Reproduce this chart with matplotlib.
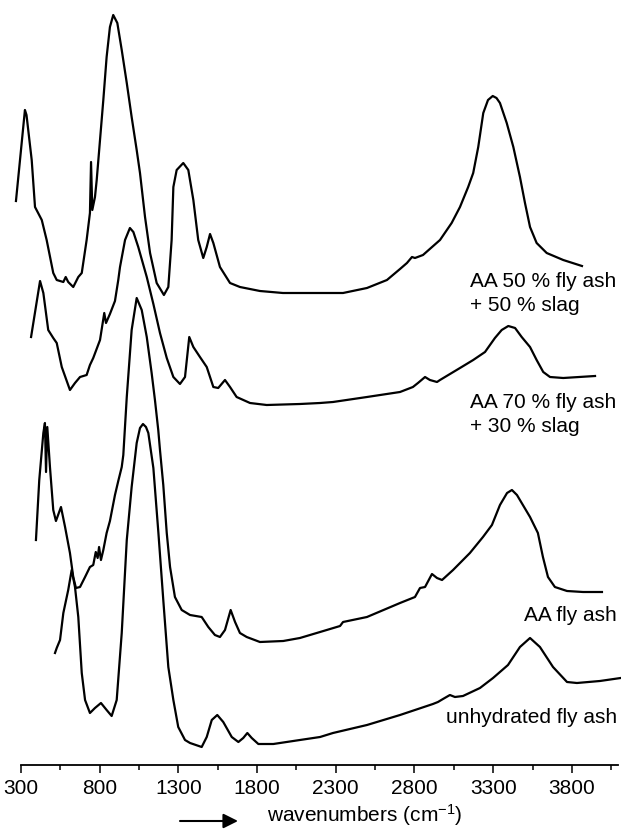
import matplotlib
matplotlib.use("Agg")
import matplotlib.pyplot as plt
from matplotlib.ticker import FixedLocator

plt.rcParams['font.family'] = ['Liberation Sans', 'DejaVu Sans']
plt.rcParams['mathtext.fontset'] = 'custom'
plt.rcParams['mathtext.rm'] = 'Liberation Sans'
plt.rcParams['mathtext.it'] = 'Liberation Sans:italic'
plt.rcParams['axes.unicode_minus'] = False

# IR spectra, stacked with vertical offsets (absorbance, a.u.)
wn_fa50 = [268, 325, 335, 368, 389, 432, 463, 505, 527, 569, 584, 600, 632, 664, 686,
           717, 738, 745, 753, 770, 781, 802, 823, 844, 865, 886, 912, 940, 972, 1003,
           1035, 1056, 1088, 1120, 1162, 1208, 1236, 1257, 1268, 1289, 1331, 1363, 1395, 1426, 1458,
           1480, 1501, 1522, 1564, 1628, 1691, 1818, 1964, 2072, 2200, 2346, 2498, 2625, 2708, 2752,
           2784, 2803, 2854, 2962, 3036, 3089, 3141, 3173, 3205, 3237, 3267, 3297, 3321, 3343, 3386,
           3428, 3470, 3502, 3534, 3576, 3640, 3745, 3864]
abs_fa50 = [5.66, 6.57, 6.52, 6.07, 5.60, 5.47, 5.27, 4.94, 4.87, 4.85, 4.90, 4.85, 4.80, 4.90, 4.94,
            5.27, 5.54, 6.05, 5.57, 5.70, 5.87, 6.27, 6.67, 7.10, 7.40, 7.52, 7.44, 7.17, 6.84, 6.50,
            6.17, 5.94, 5.50, 5.14, 4.84, 4.72, 4.80, 5.27, 5.80, 5.97, 6.04, 5.97, 5.67, 5.27, 5.09,
            5.20, 5.33, 5.24, 5.00, 4.84, 4.80, 4.76, 4.74, 4.74, 4.74, 4.74, 4.79, 4.87, 4.98, 5.04,
            5.10, 5.09, 5.12, 5.27, 5.44, 5.60, 5.80, 5.94, 6.20, 6.54, 6.67, 6.71, 6.69, 6.64, 6.44,
            6.20, 5.90, 5.64, 5.40, 5.24, 5.14, 5.07, 5.01]

wn_fa70 = [364, 421, 442, 473, 505, 527, 559, 611, 643, 675, 717, 738, 759, 802, 829,
           840, 865, 897, 918, 929, 961, 992, 1014, 1045, 1099, 1141, 1183, 1226, 1268, 1310,
           1342, 1369, 1395, 1437, 1480, 1522, 1553, 1596, 1628, 1670, 1755, 1861, 2072, 2200, 2282,
           2498, 2708, 2790, 2822, 2867, 2898, 2943, 2962, 3089, 3173, 3248, 3311, 3354, 3396, 3439,
           3481, 3534, 3576, 3618, 3661, 3745, 3947]
abs_fa70 = [4.30, 4.86, 4.74, 4.37, 4.29, 4.24, 4.00, 3.77, 3.84, 3.90, 3.92, 4.02, 4.09, 4.27, 4.54,
            4.44, 4.53, 4.66, 4.87, 5.00, 5.27, 5.39, 5.35, 5.20, 4.90, 4.63, 4.34, 4.09, 3.90, 3.83,
            3.90, 4.30, 4.20, 4.10, 4.00, 3.80, 3.79, 3.87, 3.80, 3.70, 3.64, 3.62, 3.63, 3.64, 3.65,
            3.70, 3.75, 3.80, 3.84, 3.90, 3.87, 3.85, 3.87, 3.99, 4.07, 4.15, 4.29, 4.37, 4.41, 4.39,
            4.30, 4.20, 4.07, 3.95, 3.90, 3.89, 3.91]

wn_fa = [395, 416, 442, 452, 459, 467, 484, 505, 522, 554, 580, 611, 632, 649, 675,
         707, 738, 759, 775, 787, 796, 808, 823, 844, 865, 897, 918, 940, 950, 972,
         1003, 1035, 1067, 1099, 1130, 1151, 1172, 1183, 1204, 1226, 1247, 1278, 1321, 1374, 1448,
         1490, 1532, 1564, 1596, 1632, 1660, 1691, 1734, 1818, 1966, 2072, 2200, 2327, 2346, 2498,
         2708, 2803, 2835, 2867, 2911, 2943, 2975, 3045, 3152, 3235, 3292, 3343, 3388, 3419, 3451,
         3534, 3584, 3616, 3648, 3692, 3769, 3871, 3991]
abs_fa = [2.27, 2.87, 3.34, 3.44, 2.95, 3.40, 3.00, 2.57, 2.46, 2.60, 2.40, 2.14, 1.90, 1.79, 1.80,
          1.90, 2.00, 2.02, 2.15, 2.09, 2.20, 2.07, 2.17, 2.34, 2.46, 2.72, 2.86, 3.00, 3.12, 3.70,
          4.37, 4.69, 4.57, 4.30, 3.94, 3.67, 3.37, 3.17, 2.82, 2.34, 2.00, 1.70, 1.57, 1.52, 1.50,
          1.40, 1.32, 1.30, 1.37, 1.57, 1.45, 1.34, 1.30, 1.25, 1.26, 1.29, 1.35, 1.41, 1.45, 1.50,
          1.64, 1.70, 1.79, 1.80, 1.93, 1.89, 1.87, 1.97, 2.14, 2.30, 2.42, 2.62, 2.74, 2.77, 2.72,
          2.50, 2.34, 2.10, 1.90, 1.80, 1.76, 1.75, 1.75]

wn_raw = [516, 527, 548, 569, 600, 622, 643, 664, 686, 707, 738, 770, 808, 844, 876,
          908, 940, 972, 1003, 1035, 1056, 1075, 1094, 1109, 1141, 1173, 1204, 1236, 1268, 1299,
          1342, 1374, 1448, 1480, 1512, 1547, 1585, 1639, 1681, 1712, 1738, 1766, 1808, 1903, 2072,
          2200, 2282, 2498, 2708, 2917, 2949, 2981, 3025, 3057, 3108, 3216, 3299, 3394, 3470, 3534,
          3597, 3680, 3769, 3832, 3978, 4110]
abs_raw = [1.14, 1.19, 1.27, 1.54, 1.77, 1.97, 1.80, 1.50, 0.94, 0.67, 0.54, 0.59, 0.64, 0.57, 0.51,
           0.67, 1.34, 2.27, 2.80, 3.24, 3.39, 3.43, 3.40, 3.34, 2.99, 2.34, 1.67, 1.00, 0.67, 0.40,
           0.27, 0.24, 0.20, 0.30, 0.47, 0.52, 0.45, 0.30, 0.25, 0.29, 0.34, 0.29, 0.23, 0.23, 0.27,
           0.30, 0.34, 0.42, 0.52, 0.63, 0.65, 0.68, 0.72, 0.70, 0.71, 0.79, 0.89, 1.02, 1.20, 1.29,
           1.20, 1.00, 0.85, 0.84, 0.86, 0.89]

major_ticks = [300, 800, 1300, 1800, 2300, 2800, 3300, 3800]
minor_ticks = [550, 1050, 1550, 2050, 2550, 3050, 3550, 4050]

W, H = 621, 833
fig = plt.figure(figsize=(W / 100, H / 100), dpi=100)
ax = fig.add_axes([0, (H - 765) / H, 1, 765 / H])

for wn, a in [(wn_fa50, abs_fa50), (wn_fa70, abs_fa70), (wn_fa, abs_fa), (wn_raw, abs_raw)]:
    ax.plot(wn, a, color='black', lw=1.6, solid_joinstyle='round')

ax.set_xlim(166.6, 4112)
ax.set_ylim(0.02, 7.67)
for s in ['left', 'top', 'right']:
    ax.spines[s].set_visible(False)
ax.spines['bottom'].set_bounds(300, 4095)
ax.spines['bottom'].set_linewidth(1.3)
ax.set_yticks([])
ax.xaxis.set_major_locator(FixedLocator(major_ticks))
ax.xaxis.set_minor_locator(FixedLocator(minor_ticks))
ax.tick_params(axis='x', which='major', direction='out', length=5.8, width=1.1,
               pad=4.5, labelsize=15)
ax.tick_params(axis='x', which='minor', direction='out', length=3.6, width=1.1)
ax.patch.set_visible(False)


def px(x, y):
    return x / W, 1 - y / H


# sample labels
labels = [
    ("AA 50 % fly ash", 470, 287, 'left'),
    ("+ 50 % slag", 470, 311, 'left'),
    ("AA 70 % fly ash", 470, 408, 'left'),
    ("+ 30 % slag", 470, 432, 'left'),
    ("AA fly ash", 617, 621, 'right'),
    ("unhydrated fly ash", 617, 723, 'right'),
]
for txt, x, y, ha in labels:
    fig.text(*px(x, y), txt, ha=ha, va='baseline', fontsize=15)

# x axis title with arrow
ax.annotate('', xy=px(238, 821), xytext=px(180, 821), xycoords='figure fraction',
            textcoords='figure fraction',
            arrowprops=dict(arrowstyle='-|>', color='black', lw=1.5, mutation_scale=22,
                            shrinkA=0, shrinkB=0))
fig.text(*px(267, 822), r'wavenumbers (cm$^{-1}$)', ha='left', va='baseline', fontsize=15)

fig.savefig('out.png', dpi=100)
